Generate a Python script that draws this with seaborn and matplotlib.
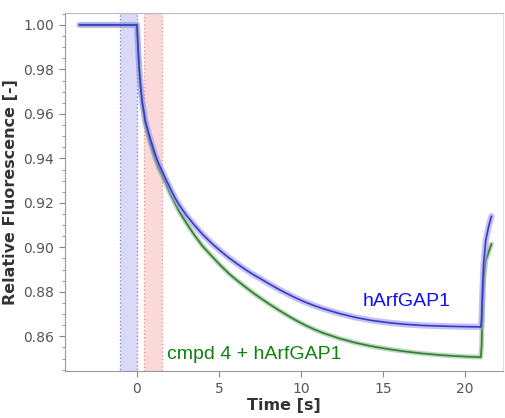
import numpy as np
import pandas as pd
import matplotlib
matplotlib.use('Agg')
import matplotlib.pyplot as plt
from matplotlib.ticker import MultipleLocator
import seaborn as sns

# time points (s)
time = [-3.5, -0.05, 0.0, 0.05, 0.1, 0.15, 0.2, 0.27, 0.33, 0.42, 0.5, 0.63, 0.76,
        0.93, 1.1, 1.3, 1.55, 1.8, 2.0, 2.3, 2.58, 3.0, 3.5, 4.0, 4.6, 5.1, 5.6,
        6.1, 6.65, 7.1, 7.5, 8.0, 8.5, 8.9, 9.3, 9.8, 10.3, 10.8, 11.3, 12.3,
        13.3, 14.3, 15.35, 16.3, 17.35, 18.4, 19.4, 20.2, 20.95, 21.0, 21.05,
        21.12, 21.25, 21.43, 21.6]

# hArfGAP1 alone
harfgap1 = [1.000, 1.000, 1.000, 0.992, 0.985, 0.979, 0.974, 0.969, 0.965, 0.961,
            0.957, 0.9535, 0.950, 0.946, 0.942, 0.938, 0.934, 0.930, 0.927, 0.9225,
            0.919, 0.9145, 0.910, 0.9058, 0.9015, 0.8983, 0.8953, 0.8926, 0.8898,
            0.8877, 0.886, 0.8838, 0.8817, 0.8801, 0.8786, 0.8768, 0.8752, 0.8738,
            0.8725, 0.8703, 0.8685, 0.8671, 0.8661, 0.8654, 0.8649, 0.8646, 0.8644,
            0.8643, 0.8642, 0.868, 0.880, 0.8925, 0.903, 0.9095, 0.914]

# cmpd 4 + hArfGAP1
cmpd4 = [1.000, 1.000, 1.000, 0.992, 0.985, 0.979, 0.974, 0.968, 0.964, 0.960,
         0.956, 0.952, 0.948, 0.944, 0.940, 0.936, 0.932, 0.928, 0.9245, 0.920,
         0.916, 0.911, 0.9055, 0.9005, 0.8957, 0.8918, 0.8882, 0.8851, 0.8819,
         0.8794, 0.8773, 0.8748, 0.8724, 0.8706, 0.8688, 0.8667, 0.8648, 0.8631,
         0.8616, 0.8591, 0.8571, 0.8555, 0.8542, 0.8532, 0.8523, 0.8516, 0.8511,
         0.8508, 0.8506, 0.856, 0.872, 0.8855, 0.894, 0.898, 0.9015]

# injection windows (s)
blue_window = (-1.06, 0.0)
red_window = (0.45, 1.55)

sns.set_style("white")
plt.rcParams['font.family'] = ['DejaVu Sans']

fig = plt.figure(figsize=(5.06, 4.18), dpi=100)
ax = fig.add_axes([0.128, 0.112, 0.866, 0.857])

ax.axvspan(*blue_window, facecolor='#dadaf7', edgecolor='#8888e8', linestyle=':', lw=1)
ax.axvspan(*red_window, facecolor='#fbd9d9', edgecolor='#e89a9a', linestyle=':', lw=1)

df = pd.DataFrame({'time': time, 'hArfGAP1': harfgap1, 'cmpd4': cmpd4})

# light band + darker core to mimic overlapping replicate traces
sns.lineplot(data=df, x='time', y='cmpd4', ax=ax, color='#7bb07b', lw=3.5, alpha=0.5)
sns.lineplot(data=df, x='time', y='cmpd4', ax=ax, color='#2f7f2f', lw=1.2)
sns.lineplot(data=df, x='time', y='hArfGAP1', ax=ax, color='#9a9aee', lw=4.5, alpha=0.6)
sns.lineplot(data=df, x='time', y='hArfGAP1', ax=ax, color='#3838c8', lw=1.2)

ax.text(16.45, 0.8755, 'hArfGAP1', color='#1010ee', fontsize=14,
        family='Liberation Sans', ha='center', va='center')
ax.text(1.8, 0.852, 'cmpd 4 + hArfGAP1', color='#108010', fontsize=14,
        family='Liberation Sans', ha='left', va='center')

ax.set_xlim(-4.4, 22.3)
ax.set_ylim(0.8443, 1.0054)
ax.set_xticks([0, 5, 10, 15, 20])
ax.set_yticks([0.86, 0.88, 0.90, 0.92, 0.94, 0.96, 0.98, 1.00])
ax.yaxis.set_minor_locator(MultipleLocator(0.005))
ax.yaxis.set_major_formatter(matplotlib.ticker.FormatStrFormatter('%.2f'))

ax.tick_params(axis='both', which='major', direction='out', length=4, width=0.8,
               color='#888888', labelcolor='#555555', labelsize=10)
ax.tick_params(axis='y', which='minor', direction='out', length=2, width=0.6,
               color='#888888', left=True)
ax.tick_params(axis='both', which='major', bottom=True, left=True)

for s in ax.spines.values():
    s.set_color('#999999')
    s.set_linewidth(0.8)
ax.spines['top'].set_color('#bbbbbb')
ax.spines['right'].set_color('#e0e0e0')

ax.set_xlabel('Time [s]', fontsize=11.5, fontweight='bold', color='#333333', labelpad=2)
ax.set_ylabel('Relative Fluorescence [-]', fontsize=11.5, fontweight='bold',
              color='#333333', labelpad=4)

fig.savefig('out.png', dpi=100)
